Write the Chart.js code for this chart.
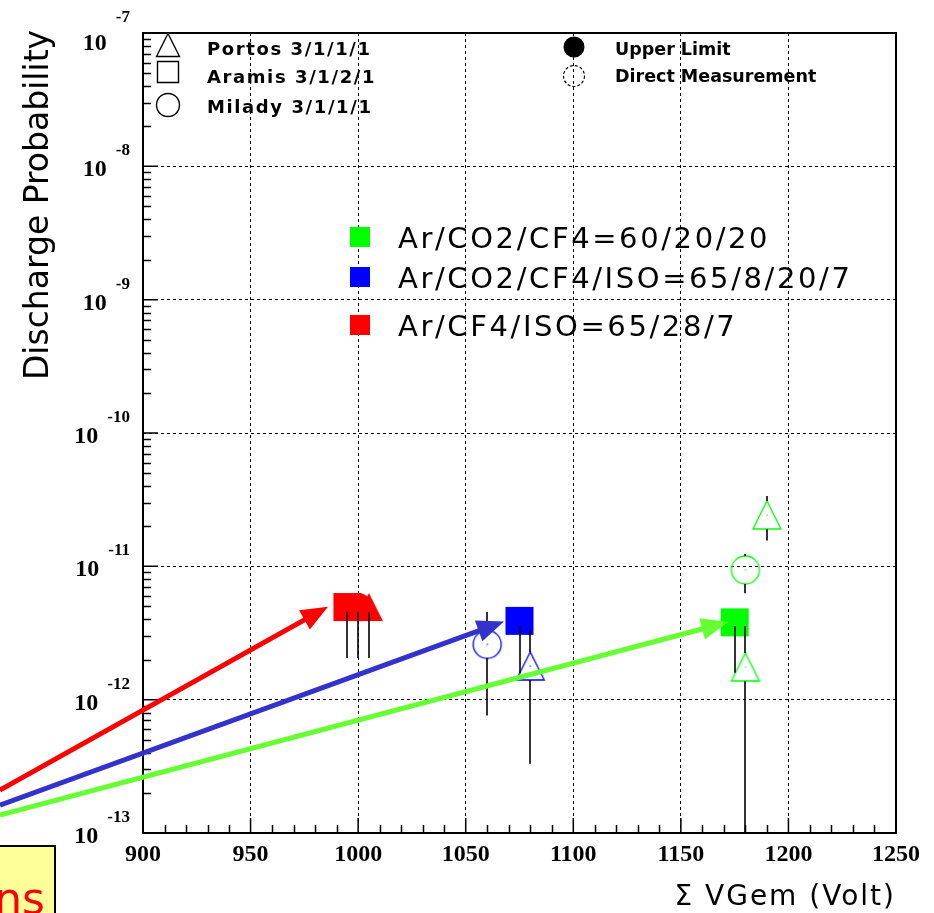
<!DOCTYPE html>
<html><head><meta charset="utf-8">
<script src="https://cdn.jsdelivr.net/npm/chart.js@4/dist/chart.umd.min.js"></script>
<style>html,body{margin:0;padding:0;background:#fff;}canvas{display:block;}</style>
</head><body>
<canvas id="c" width="934" height="913"></canvas>
<script>
// ---------- data ----------
const xTickValues = [900, 950, 1000, 1050, 1100, 1150, 1200, 1250];
const yDecadeExponents = [-13, -12, -11, -10, -9, -8, -7];

const gasLabels = ['Ar/CO2/CF4=60/20/20', 'Ar/CO2/CF4/ISO=65/8/20/7', 'Ar/CF4/ISO=65/28/7'];
const gasColors = ['#00ff00', '#0000ff', '#ff0000'];
const arrowColors = ['#66ff33', '#3333cc', '#ff0000'];

const detectorNames = ['Portos 3/1/1/1', 'Aramis 3/1/2/1', 'Milady 3/1/1/1'];
const detectorShapes = ['triangle', 'square', 'circle'];
const measureLabels = ['Upper Limit', 'Direct Measurement'];

// Ar/CO2/CF4 (green)
const greenX = [1175, 1180, 1180, 1190];
const greenY = [3.8e-12, 1.76e-12, 9.4e-12, 2.43e-11];
const greenHi = [3.57e-12, 3.57e-12, 1.24e-11, 3.37e-11];
const greenLo = [1.59e-12, 1e-13, 6.27e-12, 1.56e-11];
const greenShape = ['square', 'triangle', 'circle', 'triangle'];
const greenLimit = [true, false, false, false];

// Ar/CO2/CF4/ISO (blue)
const blueX = [1060, 1075, 1080];
const blueY = [2.6e-12, 3.9e-12, 1.79e-12];
const blueHi = [4.55e-12, 3.57e-12, 3.33e-12];
const blueLo = [7.6e-13, 1.58e-12, 3.3e-13];
const blueShape = ['circle', 'square', 'triangle'];
const blueLimit = [false, true, false];

// Ar/CF4/ISO (red)
const redX = [995, 1000, 1005];
const redY = [4.95e-12, 4.95e-12, 4.95e-12];
const redHi = [4.55e-12, 4.55e-12, 4.55e-12];
const redLo = [2.05e-12, 2.05e-12, 2.05e-12];
const redShape = ['square', 'circle', 'triangle'];
const redLimit = [true, true, true];

// annotation arrows (green, blue, red)
const arrowFromX = [833.5, 833.5, 833.5];
const arrowFromY = [1.36e-13, 1.62e-13, 2.1e-13];
const arrowToX = [1172, 1067.8, 986];
const arrowToY = [3.82e-12, 3.85e-12, 4.98e-12];

// ---------- helpers ----------
const gasSeries = [
  {x: greenX, y: greenY, hi: greenHi, lo: greenLo, shape: greenShape, limit: greenLimit},
  {x: blueX, y: blueY, hi: blueHi, lo: blueLo, shape: blueShape, limit: blueLimit},
  {x: redX, y: redY, hi: redHi, lo: redLo, shape: redShape, limit: redLimit}
];

function shapePath(g, shape, cx, cy, s) {
  g.beginPath();
  if (shape === 'square') g.rect(cx - s / 2, cy - s / 2, s, s);
  else if (shape === 'circle') g.arc(cx, cy, s / 2, 0, Math.PI * 2);
  else { g.moveTo(cx, cy - s / 2); g.lineTo(cx + s / 2, cy + s / 2); g.lineTo(cx - s / 2, cy + s / 2); g.closePath(); }
}

function makeMarker(shape, color, filled) {
  const s = 28, c = document.createElement('canvas');
  c.width = c.height = 32;
  const g = c.getContext('2d');
  shapePath(g, shape, 16, 16, s);
  if (filled) { g.fillStyle = color; g.fill(); }
  else {
    g.strokeStyle = color; g.lineWidth = 1.3; g.stroke();
    g.fillStyle = color; g.fillRect(15.5, 15.5, 1.2, 1.2);
  }
  return c;
}

const datasets = gasSeries.map((g, k) => ({
  label: gasLabels[k],
  data: g.x.map((xv, i) => ({x: xv, y: g.y[i]})),
  pointStyle: g.shape.map((s, i) => makeMarker(s, gasColors[k], g.limit[i])),
  pointRadius: 14,
  pointHoverRadius: 14,
  showLine: false
}));

const FONT = '"DejaVu Sans", sans-serif';
const SERIF = '"Liberation Serif", "DejaVu Serif", serif';

const decor = {
  id: 'decor',
  afterDatasetsDraw(chart) {
    const {ctx, chartArea: a, scales: {x: xs, y: ys}} = chart;
    ctx.save();
    ctx.beginPath(); ctx.rect(a.left, a.top, a.right - a.left, a.bottom - a.top); ctx.clip();
    ctx.strokeStyle = '#000'; ctx.lineWidth = 1.6;
    gasSeries.forEach(g => {
      g.x.forEach((xv, i) => {
        const px = Math.round(xs.getPixelForValue(xv));
        const py = ys.getPixelForValue(g.y[i]);
        const ph = ys.getPixelForValue(g.hi[i]);
        const pl = ys.getPixelForValue(g.lo[i]);
        const segs = g.limit[i] ? [[ph, pl]] : [[ph, py - 14], [py + 14, pl]];
        segs.forEach(([t, b]) => {
          if (b <= t) return;
          ctx.beginPath(); ctx.moveTo(px, t); ctx.lineTo(px, b); ctx.stroke();
        });
      });
    });
    ctx.restore();
  },
  afterDraw(chart) {
    const {ctx, chartArea: a, scales: {x: xs, y: ys}} = chart;
    ctx.save();
    // frame
    ctx.strokeStyle = '#000'; ctx.lineWidth = 2;
    ctx.strokeRect(a.left, a.top, a.right - a.left, a.bottom - a.top);
    // ticks
    ctx.lineWidth = 1.5;
    ctx.beginPath();
    for (let i = 0; i < xTickValues.length; i++) {
      const v = xTickValues[i];
      const p = xs.getPixelForValue(v);
      ctx.moveTo(p, a.bottom); ctx.lineTo(p, a.bottom - 15);
      if (i < xTickValues.length - 1) {
        const step = (xTickValues[i + 1] - v) / 5;
        for (let k = 1; k < 5; k++) {
          const q = Math.round(xs.getPixelForValue(v + k * step)) + 0.5;
          ctx.moveTo(q, a.bottom); ctx.lineTo(q, a.bottom - 8);
        }
      }
    }
    for (let i = 0; i < yDecadeExponents.length; i++) {
      const e = yDecadeExponents[i];
      const p = ys.getPixelForValue(Math.pow(10, e));
      ctx.moveTo(a.left, p); ctx.lineTo(a.left + 15, p);
      if (i < yDecadeExponents.length - 1) {
        for (let k = 2; k <= 9; k++) {
          const q = Math.round(ys.getPixelForValue(k * Math.pow(10, e))) + 0.5;
          ctx.moveTo(a.left, q); ctx.lineTo(a.left + 8, q);
        }
      }
    }
    ctx.stroke();

    // tick labels
    ctx.fillStyle = '#000';
    ctx.font = 'bold 24px ' + SERIF;
    ctx.textAlign = 'center'; ctx.textBaseline = 'alphabetic';
    xTickValues.forEach(v => ctx.fillText(String(v), xs.getPixelForValue(v), a.bottom + 28));
    const topExp = Math.max(...yDecadeExponents);
    yDecadeExponents.forEach(e => {
      const p = ys.getPixelForValue(Math.pow(10, e));
      const ex = String(e);
      ctx.textAlign = 'right';
      ctx.font = 'bold 17px ' + SERIF;
      const ew = ctx.measureText(ex).width;
      ctx.fillText(ex, a.left - 13, p - 11);
      ctx.font = 'bold 24px ' + SERIF;
      ctx.fillText('10', a.left - 13 - ew - 9, p + (e === topExp ? 17 : 10));
    });

    // axis titles
    ctx.font = '33px ' + FONT;
    ctx.save();
    ctx.translate(48, 205); ctx.rotate(-Math.PI / 2);
    ctx.textAlign = 'center';
    ctx.fillText('Discharge Probability', 0, 0);
    ctx.restore();
    ctx.font = '28px ' + FONT;
    ctx.letterSpacing = '2px';
    ctx.textAlign = 'right';
    ctx.fillText('\u03A3 VGem (Volt)', 896, 905);
    ctx.letterSpacing = '0px';

    // detector legend
    const detY = [45, 72, 105], detSize = [23, 21, 23], detBase = [55, 83, 113];
    ctx.strokeStyle = '#000'; ctx.lineWidth = 1.4;
    detectorShapes.forEach((s, i) => { shapePath(ctx, s, 168, detY[i], detSize[i]); ctx.stroke(); });
    ctx.textAlign = 'left';
    ctx.font = 'bold 18px ' + FONT;
    ctx.letterSpacing = '1.6px';
    detectorNames.forEach((t, i) => ctx.fillText(t, 207, detBase[i]));
    // measurement legend
    ctx.beginPath(); ctx.arc(574, 47, 10.5, 0, Math.PI * 2); ctx.fill();
    ctx.setLineDash([3, 2]); ctx.lineWidth = 1.2;
    ctx.beginPath(); ctx.arc(574, 76, 10.5, 0, Math.PI * 2); ctx.stroke();
    ctx.setLineDash([]);
    ctx.letterSpacing = '0px';
    ctx.font = 'bold 17.5px ' + FONT;
    ctx.fillText(measureLabels[0], 615, 55);
    ctx.fillText(measureLabels[1], 615, 82);

    // gas legend
    const gasY = [237, 277, 325];
    ctx.font = '29px ' + FONT;
    ctx.letterSpacing = '2.6px';
    gasLabels.forEach((t, i) => {
      ctx.fillStyle = gasColors[i];
      ctx.fillRect(350, gasY[i] - 10, 20, 20);
      ctx.fillStyle = '#000';
      ctx.fillText(t, 398, gasY[i] + 11);
    });
    ctx.letterSpacing = '0px';

    // arrows
    arrowColors.forEach((col, i) => {
      const x0 = xs.getPixelForValue(arrowFromX[i]), y0 = ys.getPixelForValue(arrowFromY[i]);
      const x1 = xs.getPixelForValue(arrowToX[i]), y1 = ys.getPixelForValue(arrowToY[i]);
      const ang = Math.atan2(y1 - y0, x1 - x0);
      const L = 27, W = 11;
      const bx = x1 - L * Math.cos(ang), by = y1 - L * Math.sin(ang);
      ctx.strokeStyle = col; ctx.fillStyle = col; ctx.lineWidth = 5;
      ctx.beginPath(); ctx.moveTo(x0, y0); ctx.lineTo(bx + 2 * Math.cos(ang), by + 2 * Math.sin(ang)); ctx.stroke();
      ctx.beginPath();
      ctx.moveTo(x1, y1);
      ctx.lineTo(bx + W * Math.sin(ang), by - W * Math.cos(ang));
      ctx.lineTo(bx - W * Math.sin(ang), by + W * Math.cos(ang));
      ctx.closePath(); ctx.fill();
    });

    // partial note box at bottom-left
    ctx.fillStyle = '#ffff99';
    ctx.fillRect(-5, 846, 60, 80);
    ctx.strokeStyle = '#000'; ctx.lineWidth = 2;
    ctx.strokeRect(-5, 846, 60, 80);
    ctx.fillStyle = '#ff0000';
    ctx.font = '44px ' + FONT;
    ctx.textAlign = 'right';
    ctx.fillText('ns', 45, 914);
    ctx.restore();
  }
};

new Chart(document.getElementById('c'), {
  type: 'scatter',
  data: {datasets},
  options: {
    responsive: false, animation: false, devicePixelRatio: 1, events: [],
    layout: {padding: {left: 143, right: 38, top: 33, bottom: 80}},
    plugins: {legend: {display: false}, tooltip: {enabled: false}},
    scales: {
      x: {
        type: 'linear', min: 900, max: 1250,
        afterBuildTicks: s => { s.ticks = xTickValues.map(v => ({value: v})); },
        ticks: {display: false},
        grid: {color: '#000', lineWidth: 1, drawTicks: false},
        border: {display: false, dash: [3, 3]}
      },
      y: {
        type: 'logarithmic', min: 1e-13, max: 1e-7,
        afterBuildTicks: s => { s.ticks = yDecadeExponents.map(e => ({value: Math.pow(10, e)})); },
        ticks: {display: false},
        grid: {color: '#000', lineWidth: 1, drawTicks: false},
        border: {display: false, dash: [3, 3]}
      }
    }
  },
  plugins: [decor]
});
</script>
</body></html>
